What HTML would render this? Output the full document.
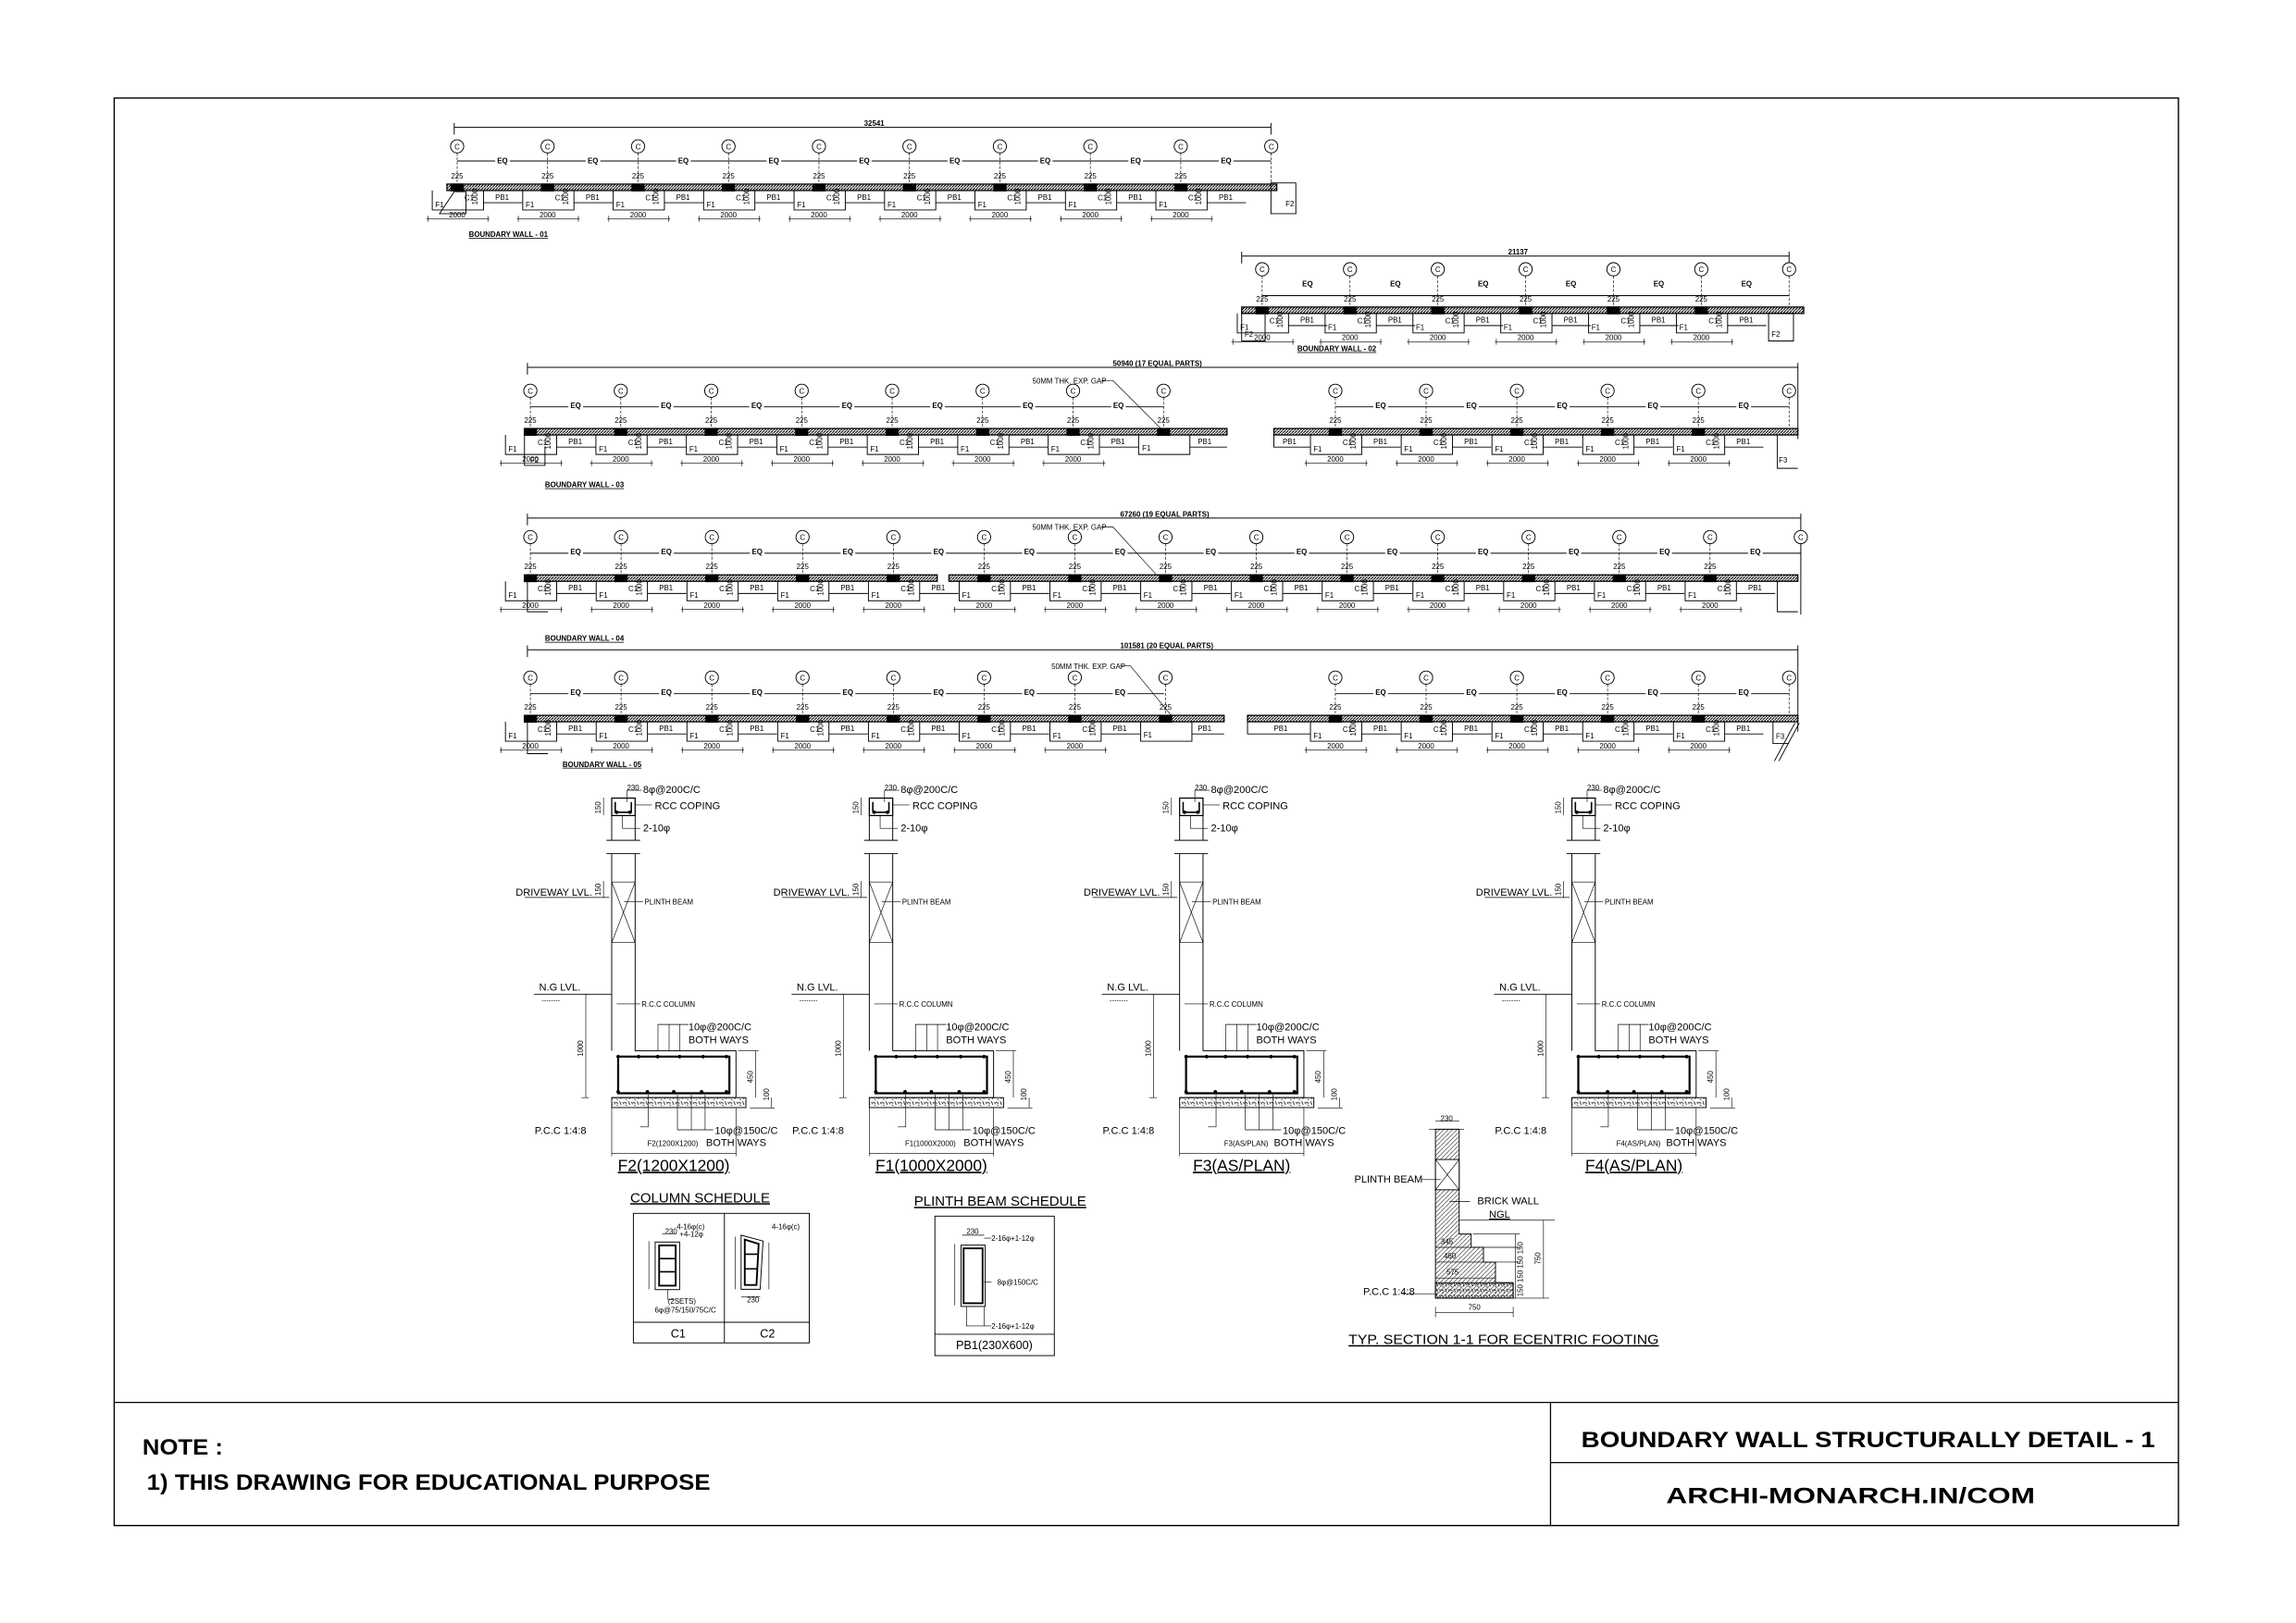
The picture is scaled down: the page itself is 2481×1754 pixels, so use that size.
<!DOCTYPE html>
<html><head><meta charset="utf-8"><style>
html,body{margin:0;padding:0;background:#fff}
svg{display:block}
text{font-family:"Liberation Sans",sans-serif;fill:#000}
.t{font-size:5px}
.m{font-size:7px}
.b{font-size:15px;font-weight:bold}
.u{font-family:"Liberation Sans Narrow","Liberation Sans",sans-serif}
</style></head><body>
<svg width="2481" height="1754" viewBox="0 0 1568 1109" xmlns="http://www.w3.org/2000/svg" fill="none" stroke="#000" stroke-width="0.6">
<defs>
<pattern id="h" patternUnits="userSpaceOnUse" width="2" height="2"><rect width="2" height="2" fill="#fff" stroke="none"/><path d="M0,2 L2,0" stroke="#000" stroke-width="0.7"/></pattern>
<pattern id="h2" patternUnits="userSpaceOnUse" width="3" height="3"><path d="M0,3 L3,0" stroke="#000" stroke-width="0.35"/></pattern>
<pattern id="pc" patternUnits="userSpaceOnUse" width="6" height="4"><path d="M0,1 L2,2 M3,0.5 L4,3 M5,1 L6,2.5 M1,3 L2,3.5" stroke="#000" stroke-width="0.5"/></pattern>
<g id="bub">
<circle cx="0" cy="-28" r="4.5" fill="#fff"/>
<text x="0" y="-26" class="t" text-anchor="middle" stroke="none">C</text>
<path d="M0,-23.5 V-2" stroke-dasharray="2,1" stroke-width="0.4"/>
</g>
<g id="col">
<use href="#bub"/>
<rect x="-4.5" y="-2.6" width="9" height="5.4" fill="#000" stroke="none"/>
<text x="0" y="-6" class="t" text-anchor="middle" stroke="none" font-size="4">225</text>
</g>
<g id="bay">
<use href="#col"/>
<path d="M-17,2.2 V15.5 H18 V2.2"/>
<text x="-15" y="13.5" class="t" stroke="none">F1</text>
<text x="5" y="9" class="t" stroke="none">C1</text>
<text x="14" y="12" class="t" stroke="none" font-size="3.5" transform="rotate(-90 14 12)">1000</text>
<path d="M18,10.5 H44.5"/>
<text x="26" y="8.5" class="t" stroke="none">PB1</text>
<path d="M-21,21.5 H22 M-20,19.5 V23.5 M21,19.5 V23.5" stroke-width="0.4"/>
<text x="0" y="20.5" class="t" text-anchor="middle" stroke="none" font-size="4">2000</text>
<rect x="26" y="-20.5" width="10" height="5" fill="#fff" stroke="none"/>
<text x="31" y="-16.3" class="t" text-anchor="middle" stroke="none" font-weight="bold" font-size="4.5">EQ</text>
</g>
<g id="sec">
<path d="M417.6,545.3 H433.6 V557.3 H417.6 Z" stroke-width="0.8"/>
<path d="M420,548 V555 H431 V548" stroke-width="1"/>
<circle cx="421" cy="555" r="0.9" fill="#000"/><circle cx="430" cy="555" r="0.9" fill="#000"/>
<path d="M417.6,557.3 V574.2 M433.6,557.3 V574.2 M414,574.2 H437 M414,583.3 H437 M417.6,583.3 V718 M433.6,583.3 V718 H502.5 V750 H417.6"/>
<path d="M417.6,602.7 H433.6 M417.6,644.1 H433.6 M417.6,602.7 L433.6,644.1 M433.6,602.7 L417.6,644.1" stroke-width="0.4"/>
<path d="M358,613.2 H416 M364.5,679.5 H417.6" stroke-width="0.5"/>
<path d="M370,683.7 H382" stroke-width="0.4" stroke-dasharray="1,0.6"/>
<path d="M422,747 V722 H498 V747 Z" stroke-width="1.4"/>
<g fill="#000" stroke="none"><circle cx="422" cy="722" r="1.2"/><circle cx="436" cy="722" r="1.2"/><circle cx="449" cy="722" r="1.2"/><circle cx="464" cy="722" r="1.2"/><circle cx="480" cy="722" r="1.2"/><circle cx="496" cy="722" r="1.2"/><circle cx="422" cy="746" r="1.2"/><circle cx="442" cy="746" r="1.2"/><circle cx="460" cy="746" r="1.2"/><circle cx="479" cy="746" r="1.2"/><circle cx="496" cy="746" r="1.2"/></g>
<rect x="417.6" y="750" width="91.7" height="6.8" fill="url(#pc)" stroke-width="0.6"/>
<path d="M442.5,748 V770 H437 M462.5,748 V772 M472,748 V772 M481.4,748 V772 H487 M462.5,772 H481.4" stroke-width="0.4"/>
<path d="M449.2,718 V700 H470 M456.8,700 V718 M464.2,700 V718" stroke-width="0.4"/>
<path d="M399.9,679.5 V750 M397,679.5 H402 M397,750 H402 M516,718 V750 M526.8,750 V757 M504,718 H518 M512,757 H529 M417.6,788 H502.5 M417.6,757 V790 M502.5,757 V790 M412,545 V557 M412,602 V613" stroke-width="0.4"/>
<path d="M433.6,550 H445 M429,566 H437 V566 M425,557 V566 H437 M428,540 V548 M428,540 H438 M426,616 H439 M421,686 H437" stroke-width="0.4"/>
<text x="439" y="542" class="m" stroke="none">8φ@200C/C</text>
<text x="447" y="553" class="m" stroke="none">RCC COPING</text>
<text x="439" y="568" class="m" stroke="none">2-10φ</text>
<text x="352" y="612" class="m" stroke="none">DRIVEWAY LVL.</text>
<text x="440" y="618" class="t" stroke="none">PLINTH BEAM</text>
<text x="368" y="677" class="m" stroke="none">N.G LVL.</text>
<text x="438" y="688" class="t" stroke="none">R.C.C COLUMN</text>
<text x="470" y="704" class="m" stroke="none">10φ@200C/C</text>
<text x="470" y="713" class="m" stroke="none">BOTH WAYS</text>
<text x="398" y="722" class="t" stroke="none" transform="rotate(-90 398 722)">1000</text>
<text x="514" y="740" class="t" stroke="none" transform="rotate(-90 514 740)">450</text>
<text x="525" y="752" class="t" stroke="none" transform="rotate(-90 525 752)">100</text>
<text x="410" y="556" class="t" stroke="none" transform="rotate(-90 410 556)">150</text>
<text x="410" y="612" class="t" stroke="none" transform="rotate(-90 410 612)">150</text>
<text x="365" y="775" class="m" stroke="none">P.C.C  1:4:8</text>
<text x="488" y="775" class="m" stroke="none">10φ@150C/C</text>
<text x="482" y="783" class="m" stroke="none">BOTH WAYS</text>
<text x="428" y="540" class="t" stroke="none">230</text>
</g>
</defs>

<!-- frame -->
<rect x="77.7" y="67" width="1410.3" height="975.4" stroke-width="0.9"/>
<path d="M77.7,958.3 H1488 M1059,958.3 V1042.4 M1059,999.4 H1488" stroke-width="0.8"/>
<text x="97" y="994" class="b u" textLength="55" lengthAdjust="spacingAndGlyphs" stroke="none">NOTE :</text>
<text x="100" y="1018" class="b u" textLength="385" lengthAdjust="spacingAndGlyphs" stroke="none">1) THIS DRAWING FOR EDUCATIONAL PURPOSE</text>
<text x="1080" y="989" class="b u" textLength="392" lengthAdjust="spacingAndGlyphs" stroke="none">BOUNDARY WALL STRUCTURALLY DETAIL - 1</text>
<text x="1138" y="1027" class="b u" textLength="252" lengthAdjust="spacingAndGlyphs" stroke="none">ARCHI-MONARCH.IN/COM</text>

<!-- WALL 01 -->
<path d="M310,87 H868 M310,84 V92 M868,84 V92 M312,110 H868"/>
<text x="590" y="86" class="t" stroke="none" font-weight="bold" font-size="4">32541</text>
<rect x="305" y="125.8" width="567" height="4.4" fill="url(#h)" stroke-width="0.8"/>
<use href="#bay" x="312" y="128"/><use href="#bay" x="373.8" y="128"/><use href="#bay" x="435.6" y="128"/><use href="#bay" x="497.4" y="128"/><use href="#bay" x="559.2" y="128"/><use href="#bay" x="621" y="128"/><use href="#bay" x="682.8" y="128"/><use href="#bay" x="744.6" y="128"/><use href="#bay" x="806.4" y="128"/><use href="#bub" x="868.2" y="128"/>
<path d="M868,125 H885 V146 H868 Z M300,146 L310,131 H318 V146 Z"/>
<text x="878" y="141" class="t" stroke="none">F2</text>
<text x="320" y="162" class="t" stroke="none" font-weight="bold" font-size="4.5" text-decoration="underline">BOUNDARY WALL - 01</text>

<!-- WALL 02 -->
<path d="M848,175 H1222 M848,172 V180 M1222,172 V180 M862,202 H1222"/>
<text x="1030" y="174" class="t" stroke="none" font-weight="bold" font-size="4">21137</text>
<rect x="848" y="209.8" width="384" height="4.4" fill="url(#h)" stroke-width="0.8"/>
<use href="#bay" x="862" y="212"/><use href="#bay" x="922" y="212"/><use href="#bay" x="982" y="212"/><use href="#bay" x="1042" y="212"/><use href="#bay" x="1102" y="212"/><use href="#bay" x="1162" y="212"/><use href="#bub" x="1222" y="212"/>
<path d="M848,214 H864 V233 H848 Z M1208,214 H1225 V233 H1208 Z"/>
<text x="850" y="230" class="t" stroke="none">F2</text><text x="1210" y="230" class="t" stroke="none">F2</text>
<text x="886" y="240" class="t" stroke="none" font-weight="bold" font-size="4.5" text-decoration="underline">BOUNDARY WALL - 02</text>

<!-- WALL 03 -->
<path d="M360,251 H1228 M360,248 V256 M1228,248 V300 M362,278 H795 M912,278 H1222"/>
<text x="760" y="250" class="t" stroke="none" font-weight="bold" font-size="4">50940 (17 EQUAL PARTS)</text>
<rect x="358" y="292.8" width="480" height="4.4" fill="url(#h)" stroke-width="0.8"/>
<rect x="870" y="292.8" width="358" height="4.4" fill="url(#h)" stroke-width="0.8"/>
<use href="#bay" x="362" y="295"/><use href="#bay" x="423.8" y="295"/><use href="#bay" x="485.6" y="295"/><use href="#bay" x="547.4" y="295"/><use href="#bay" x="609.2" y="295"/><use href="#bay" x="671" y="295"/><use href="#bay" x="732.8" y="295"/><use href="#col" x="794.6" y="295"/>
<path d="M777.6,297.2 V310.5 H812.6 V297.2 M812.6,305.5 H838"/>
<text x="780" y="308" class="t" stroke="none">F1</text><text x="818" y="303.5" class="t" stroke="none">PB1</text>
<path d="M870,297.2 V305.5 H895"/><text x="876" y="303.5" class="t" stroke="none">PB1</text>
<use href="#bay" x="912" y="295"/><use href="#bay" x="974" y="295"/><use href="#bay" x="1036" y="295"/><use href="#bay" x="1098" y="295"/><use href="#bay" x="1160" y="295"/><use href="#bub" x="1222" y="295"/>
<path d="M358,297 V318 H372 V305"/><text x="362" y="316" class="t" stroke="none">F2</text>
<path d="M1214,297 V320 H1228"/><text x="1215" y="316" class="t" stroke="none">F3</text>
<text x="705" y="262" class="t" stroke="none">50MM THK. EXP. GAP</text>
<path d="M752,260 H760 L793,293" stroke-width="0.4"/>
<text x="372" y="333" class="t" stroke="none" font-weight="bold" font-size="4.5" text-decoration="underline">BOUNDARY WALL - 03</text>

<!-- WALL 04 -->
<path d="M360,354 H1230 M360,351 V359 M1230,351 V420 M362,378 H1230"/>
<text x="765" y="353" class="t" stroke="none" font-weight="bold" font-size="4">67260 (19 EQUAL PARTS)</text>
<rect x="360" y="392.8" width="280" height="4.4" fill="url(#h)" stroke-width="0.8"/>
<rect x="648" y="392.8" width="580" height="4.4" fill="url(#h)" stroke-width="0.8"/>
<use href="#bay" x="362" y="395"/><use href="#bay" x="424" y="395"/><use href="#bay" x="486" y="395"/><use href="#bay" x="548" y="395"/><use href="#bay" x="610" y="395"/><use href="#bay" x="672" y="395"/><use href="#bay" x="734" y="395"/><use href="#bay" x="796" y="395"/><use href="#bay" x="858" y="395"/><use href="#bay" x="920" y="395"/><use href="#bay" x="982" y="395"/><use href="#bay" x="1044" y="395"/><use href="#bay" x="1106" y="395"/><use href="#bay" x="1168" y="395"/><use href="#bub" x="1230" y="395"/>
<path d="M360,397 V418 H374 M1214,397 V418 H1228"/>
<text x="705" y="362" class="t" stroke="none">50MM THK. EXP. GAP</text>
<path d="M752,360 H760 L790,393" stroke-width="0.4"/>
<text x="372" y="438" class="t" stroke="none" font-weight="bold" font-size="4.5" text-decoration="underline">BOUNDARY WALL - 04</text>

<!-- WALL 05 -->
<path d="M360,444 H1228 M360,441 V449 M1228,441 V500 M362,474 H795 M912,474 H1222"/>
<text x="765" y="443" class="t" stroke="none" font-weight="bold" font-size="4">101581 (20 EQUAL PARTS)</text>
<rect x="360" y="488.8" width="476" height="4.4" fill="url(#h)" stroke-width="0.8"/>
<rect x="852" y="488.8" width="376" height="4.4" fill="url(#h)" stroke-width="0.8"/>
<use href="#bay" x="362" y="491"/><use href="#bay" x="424" y="491"/><use href="#bay" x="486" y="491"/><use href="#bay" x="548" y="491"/><use href="#bay" x="610" y="491"/><use href="#bay" x="672" y="491"/><use href="#bay" x="734" y="491"/><use href="#col" x="796" y="491"/>
<path d="M779,493.2 V506.5 H814 V493.2 M814,501.5 H836"/>
<text x="781" y="504" class="t" stroke="none">F1</text><text x="818" y="499.5" class="t" stroke="none">PB1</text>
<path d="M852,493.2 V501.5 H895"/><text x="870" y="499.5" class="t" stroke="none">PB1</text>
<use href="#bay" x="912" y="491"/><use href="#bay" x="974" y="491"/><use href="#bay" x="1036" y="491"/><use href="#bay" x="1098" y="491"/><use href="#bay" x="1160" y="491"/><use href="#bub" x="1222" y="491"/>
<path d="M360,493 V515 H374 M1211,493 V508 H1222 M1226,494 L1212,520 M1229,494 L1215,520" stroke-width="0.6"/>
<text x="1213" y="505" class="t" stroke="none">F3</text>
<text x="718" y="457" class="t" stroke="none">50MM THK. EXP. GAP</text>
<path d="M765,455 H772 L800,489" stroke-width="0.4"/>
<text x="384" y="524" class="t" stroke="none" font-weight="bold" font-size="4.5" text-decoration="underline">BOUNDARY WALL - 05</text>

<!-- SECTIONS -->
<use href="#sec"/>
<use href="#sec" x="176"/>
<use href="#sec" x="388"/>
<use href="#sec" x="656"/>
<g stroke="none">
<text x="442" y="783" class="t">F2(1200X1200)</text>
<text x="618" y="783" class="t">F1(1000X2000)</text>
<text x="836" y="783" class="t">F3(AS/PLAN)</text>
<text x="1104" y="783" class="t">F4(AS/PLAN)</text>
<text x="460" y="800" font-size="11" text-anchor="middle" text-decoration="underline">F2(1200X1200)</text>
<text x="636" y="800" font-size="11" text-anchor="middle" text-decoration="underline">F1(1000X2000)</text>
<text x="848" y="800" font-size="11" text-anchor="middle" text-decoration="underline">F3(AS/PLAN)</text>
<text x="1116" y="800" font-size="11" text-anchor="middle" text-decoration="underline">F4(AS/PLAN)</text>
</g>

<!-- COLUMN SCHEDULE -->
<text x="478" y="821.5" font-size="9.5" text-anchor="middle" text-decoration="underline" stroke="none">COLUMN SCHEDULE</text>
<rect x="432.4" y="829.1" width="120.2" height="88.5"/>
<path d="M494.6,829.1 V917.6 M432.4,903.5 H552.6"/>
<text x="463" y="914" font-size="8" text-anchor="middle" stroke="none">C1</text>
<text x="524" y="914" font-size="8" text-anchor="middle" stroke="none">C2</text>
<rect x="447.3" y="848.7" width="16.7" height="32.5"/>
<rect x="450" y="851" width="11.3" height="27.5" stroke-width="1.2"/>
<path d="M450,860 H461 M450,869 H461" stroke-width="1"/>
<path d="M443,848 V881 M452,843 H462 M456,881 V888 H460" stroke-width="0.4"/>
<text x="454" y="843" class="t" stroke="none" font-size="3.5">230</text>
<text x="462" y="840" class="t" stroke="none" font-size="3.5">4-16φ(c)</text>
<text x="464" y="845" class="t" stroke="none" font-size="3.5">+4-12φ</text>
<text x="456" y="891" class="t" stroke="none" font-size="3.5">(2SETS)</text>
<text x="447" y="897" class="t" stroke="none" font-size="3.5">6φ@75/150/75C/C</text>
<path d="M506,844 L521,848 L519,881 H506 Z"/>
<path d="M508.5,847 L518,850 L516.5,878 H508.5 Z" stroke-width="1.2"/>
<path d="M508.5,857 H517 M508.5,867 H517" stroke-width="1"/>
<path d="M502,845 V881 M525,849 V881 M506,886 H519" stroke-width="0.4"/>
<text x="510" y="890" class="t" stroke="none" font-size="3.5">230</text>
<text x="527" y="840" class="t" stroke="none" font-size="3.5">4-16φ(c)</text>

<!-- PLINTH BEAM SCHEDULE -->
<text x="683" y="824" font-size="9.5" text-anchor="middle" text-decoration="underline" stroke="none">PLINTH BEAM SCHEDULE</text>
<rect x="638.4" y="831" width="81.6" height="95.3"/>
<path d="M638.4,911.7 H720"/>
<text x="679" y="922" font-size="8" text-anchor="middle" stroke="none">PB1(230X600)</text>
<rect x="656.3" y="850.8" width="16.5" height="41.9"/>
<rect x="658" y="853" width="13" height="37.5" stroke-width="1.2"/>
<path d="M652,850 V892 M657,844 H672 M672,846 H677 M672,876 H677 M672,906 H677 M660,893 V906 H672 V893" stroke-width="0.4"/>
<text x="677" y="848" class="t" stroke="none" font-size="4">2-16φ+1-12φ</text>
<text x="681" y="878" class="t" stroke="none" font-size="4">8φ@150C/C</text>
<text x="677" y="908" class="t" stroke="none" font-size="4">2-16φ+1-12φ</text>
<text x="660" y="843" class="t" stroke="none" font-size="3.5">230</text>

<!-- TYP SECTION 1-1 -->
<path d="M980.4,771.6 H996.6 V843.2 H1004.8 V852.3 H1013.2 V862.4 H1021.4 V876.5 H1033.5 V887 H980.4 Z" fill="url(#h2)"/>
<rect x="980.4" y="792.3" width="16.2" height="20.7" fill="#fff"/>
<path d="M980.4,792.3 L996.6,813 M996.6,792.3 L980.4,813" stroke-width="0.4"/>
<rect x="980.4" y="876.5" width="53.1" height="10.5" fill="url(#pc)"/>
<path d="M980.4,852.3 H1004.8 M980.4,862.4 H1013.2 M980.4,873.3 H1021.4 M976,771.6 H1000" stroke-width="0.4"/>
<path d="M996.6,833.7 H1062 M1054.2,833.7 V887 M1033.5,887 H1058 M1006,843.2 H1038 M1012,852.3 H1038 M1020,862.4 H1038 M1035,843 V887 M980.4,896.8 H1033.5 M980.4,893 V900 M1033.5,893 V900 M980.4,766 H996.6" stroke-width="0.4"/>
<path d="M971,806 H984 M990,821 H1004 M957,884 H982" stroke-width="0.4"/>
<text x="988" y="766" class="t" stroke="none" text-anchor="middle">230</text>
<text x="925" y="808" class="m" stroke="none">PLINTH BEAM</text>
<text x="1009" y="823" class="m" stroke="none">BRICK WALL</text>
<text x="1017" y="832" class="m" stroke="none" text-decoration="underline">NGL</text>
<text x="931" y="885" class="m" stroke="none">P.C.C  1:4:8</text>
<text x="1007" y="895" class="t" stroke="none" text-anchor="middle">750</text>
<text x="984" y="850" class="t" stroke="none" font-size="4.5">345</text>
<text x="986" y="860" class="t" stroke="none" font-size="4.5">460</text>
<text x="988" y="871" class="t" stroke="none" font-size="4.5">575</text>
<text x="1052" y="864" class="t" stroke="none" transform="rotate(-90 1052 864)">750</text>
<text x="1040" y="886" class="t" stroke="none" font-size="3.5" transform="rotate(-90 1040 886)">150 150 150 150</text>
<text x="921" y="918.5" font-size="9.5" textLength="212" lengthAdjust="spacingAndGlyphs" text-decoration="underline" stroke="none">TYP. SECTION 1-1 FOR ECENTRIC FOOTING</text>
</svg>
</body></html>
